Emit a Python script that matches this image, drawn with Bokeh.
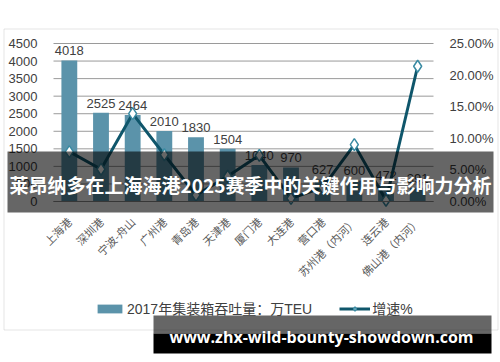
import math
from bokeh.plotting import figure
from bokeh.models import (ColumnDataSource, Range1d, LinearAxis, FixedTicker,
                          PrintfTickFormatter, BoxAnnotation, Label, Legend, LegendItem)
from bokeh.core.properties import value
from bokeh.embed import file_html
from bokeh.resources import INLINE

ports = ["上海港", "深圳港", "宁波-舟山", "广州港", "青岛港", "天津港", "厦门港",
         "大连港", "营口港", "苏州港（内河）", "连云港", "佛山港（内河）"]
teu = [4018, 2525, 2464, 2010, 1830, 1504, 1040, 970, 627, 600, 472, 391]
growth = [7.9, 5.1, 13.9, 7.4, 1.0, 4.0, 7.3, 0.5, 2.2, 9.0, 0.2, 21.4]
left_ticks = [0, 500, 1000, 1500, 2000, 2500, 3000, 3500, 4000, 4500]
right_ticks = [0, 5, 10, 15, 20, 25]
bar_label = "2017年集装箱吞吐量：万TEU"
line_label = "增速%"
title = "莱昂纳多在上海海港2025赛季中的关键作用与影响力分析"
watermark = "www.zhx-wild-bounty-showdown.com"

NUM_FONT = "Liberation Sans, Noto Sans CJK SC"
CJK_FONT = "Noto Sans CJK SC"

# layout (pixels): canvas and plot area box
W, H = 500, 362
PL, PR, PT, PB = 53, 433, 43, 201

n = len(ports)
xs = [i + 0.5 for i in range(n)]
ymax = left_ticks[-1]
pmax = right_ticks[-1]
ux = (PR - PL) / n
uy = (PB - PT) / ymax
up = (PB - PT) / pmax

src = ColumnDataSource(dict(x=xs, port=ports, teu=teu, growth=growth,
                            teu_str=[str(v) for v in teu]))

p = figure(width=W, height=H,
           x_range=Range1d(-PL / ux, n + (W - PR) / ux),
           y_range=Range1d(-(H - PB) / uy, ymax + PT / uy),
           x_axis_type=None, y_axis_type=None,
           output_backend="svg", toolbar_location=None, min_border=0)
p.extra_y_ranges = {"pct": Range1d(-(H - PB) / up, pmax + PT / up)}
p.outline_line_color = None
p.background_fill_color = "white"
p.border_fill_color = "white"

# horizontal gridlines across the plot area
p.segment(x0=0, x1=n, y0=left_ticks, y1=left_ticks, line_color="#9A9A9A", line_width=1)

# left axis
yax = LinearAxis(ticker=FixedTicker(ticks=left_ticks), fixed_location=0,
                 bounds=(0, ymax))
yax.axis_line_color = None
yax.major_tick_line_color = None
yax.minor_tick_line_color = None
yax.major_label_standoff = 10
yax.major_label_text_font = NUM_FONT
yax.major_label_text_font_size = "13px"
yax.major_label_text_color = "#404040"
p.add_layout(yax, "left")

# right axis
rax = LinearAxis(y_range_name="pct", ticker=FixedTicker(ticks=right_ticks),
                 formatter=PrintfTickFormatter(format="%.2f%%"),
                 fixed_location=n, bounds=(0, pmax))
rax.axis_line_color = None
rax.major_tick_line_color = None
rax.minor_tick_line_color = None
rax.major_label_standoff = 10
rax.major_label_text_font = NUM_FONT
rax.major_label_text_font_size = "13px"
rax.major_label_text_color = "#404040"
p.add_layout(rax, "right")

# category axis
xax = LinearAxis(ticker=FixedTicker(ticks=xs), fixed_location=0, bounds=(0, n),
                 major_label_overrides={x: lab for x, lab in zip(xs, ports)})
xax.axis_line_color = "#8A8A8A"
xax.major_tick_line_color = None
xax.minor_tick_line_color = None
xax.major_label_orientation = math.pi / 4
xax.major_label_standoff = 12
xax.major_label_text_font = CJK_FONT
xax.major_label_text_font_size = "11px"
xax.major_label_text_color = "#595959"
p.add_layout(xax, "below")

bars = p.vbar(x="x", top="teu", width=0.5, source=src,
              fill_color="#5B93AA", line_color=None)
p.text(x="x", y="teu", text="teu_str", source=src, text_align="center",
       text_baseline="bottom", y_offset=-5, text_font=value(NUM_FONT),
       text_font_size="13px", text_color="#404040")

ln = p.line(x="x", y="growth", source=src, y_range_name="pct",
            line_color="#0F566B", line_width=3)
mk = p.scatter(x="x", y="growth", source=src, y_range_name="pct",
               marker="diamond", size=12, fill_color="white",
               line_color="#3A8BA3", line_width=1.5)

legend = Legend(items=[LegendItem(label=bar_label, renderers=[bars]),
                       LegendItem(label=line_label, renderers=[ln, mk])],
                orientation="horizontal", location=(94, 44),
                border_line_color=None, background_fill_alpha=0,
                label_text_font=NUM_FONT, label_text_font_size="14px",
                label_text_color="#404040", glyph_width=31, glyph_height=11,
                label_standoff=2, spacing=27, padding=0, margin=0)
p.add_layout(legend, "center")

def canvas_box(l, r, t, b, **kw):
    return BoxAnnotation(left=l, right=r, top=t, bottom=b,
                         left_units="canvas", right_units="canvas",
                         top_units="canvas", bottom_units="canvas",
                         level="overlay", **kw)

# outer border of the chart
p.add_layout(canvas_box(3.5, 497.5, 28.5, 329.5, fill_alpha=0,
                        line_color="#A6A6A6", line_width=1))

# banner
p.add_layout(canvas_box(7, 493, 151, 212, fill_color="black", fill_alpha=0.6,
                        line_color=None))
p.add_layout(Label(x=250, y=184, x_units="canvas", y_units="canvas", text=title,
                   text_align="center", text_baseline="middle",
                   text_font=CJK_FONT, text_font_style="bold",
                   text_font_size="19px", text_color="white", level="overlay"))

# watermark
p.add_layout(canvas_box(153, 491, 315, 333, fill_color="black", fill_alpha=0.6,
                        line_color=None))
p.add_layout(canvas_box(153, 491, 333, 353, fill_color="black", fill_alpha=1.0,
                        line_color=None))
p.add_layout(Label(x=321, y=336, x_units="canvas", y_units="canvas", text=watermark,
                   text_align="center", text_baseline="middle",
                   text_font="Open Sans", text_font_style="bold",
                   text_font_size="16px", text_color="white", level="overlay"))

open("out.html", "w").write(file_html(p, INLINE))
